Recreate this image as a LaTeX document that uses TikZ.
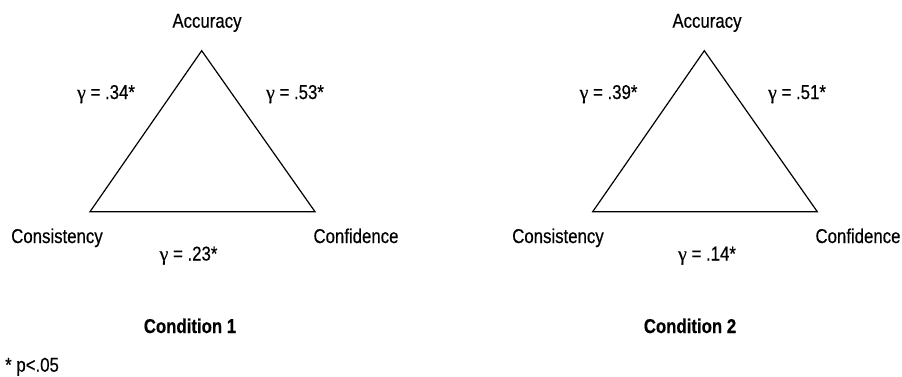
\documentclass[tikz,border=0pt]{standalone}
\usepackage{fontspec}
\setmainfont[FakeStretch=0.84,FakeBold=0.4]{Liberation Sans}
\newfontfamily\gfont[FakeBold=0.4]{Liberation Serif}
\newcommand{\gam}{{\gfont γ}}
\usepackage{tikz}
\usetikzlibrary{positioning}

\begin{document}
\begin{tikzpicture}[
  x=1pt, y=-1pt,
  vlabel/.style={anchor=base, inner sep=0pt,
    font=\fontsize{20}{22}\selectfont},
  coef/.style={anchor=base, inner sep=0pt,
    font=\fontsize{20}{22}\selectfont},
  cond/.style={anchor=base, inner sep=0pt,
    font=\fontsize{20}{22}\selectfont\bfseries},
  edge/.style={line width=1.2pt}
]
\useasboundingbox (0,0) rectangle (902,376);

% Condition 1
\coordinate (A1) at (201.7,50.7);
\coordinate (L1) at (90,211.7);
\coordinate (R1) at (315,211.7);
\draw[edge] (A1) -- (L1) -- (R1) -- cycle;

\node[vlabel] (acc1) at (207,27.7) {Accuracy};
\node[vlabel] (cons1) at (57,243) {Consistency};
\node[vlabel] (conf1) at (356,243) {Confidence};
\node[coef] (g1a) at (106,99) {\gam{} = .34*};
\node[coef] (g1b) at (295,99) {\gam{} = .53*};
\node[coef] (g1c) at (188.5,260.5) {\gam{} = .23*};
\node[cond] (c1) at (190,333) {Condition 1};

% Condition 2
\coordinate (A2) at (704.3,50.7);
\coordinate (L2) at (592.7,211.7);
\coordinate (R2) at (817.3,211.7);
\draw[edge] (A2) -- (L2) -- (R2) -- cycle;

\node[vlabel] (acc2) at (707,27.7) {Accuracy};
\node[vlabel] (cons2) at (558,243) {Consistency};
\node[vlabel] (conf2) at (858,243) {Confidence};
\node[coef] (g2a) at (608.5,99) {\gam{} = .39*};
\node[coef] (g2b) at (797,99) {\gam{} = .51*};
\node[coef] (g2c) at (707,260.5) {\gam{} = .14*};
\node[cond] (c2) at (690,333) {Condition 2};

% Note
\node[coef, anchor=base west] (note) at (5,371.7) {* p<.05};
\end{tikzpicture}
\end{document}
